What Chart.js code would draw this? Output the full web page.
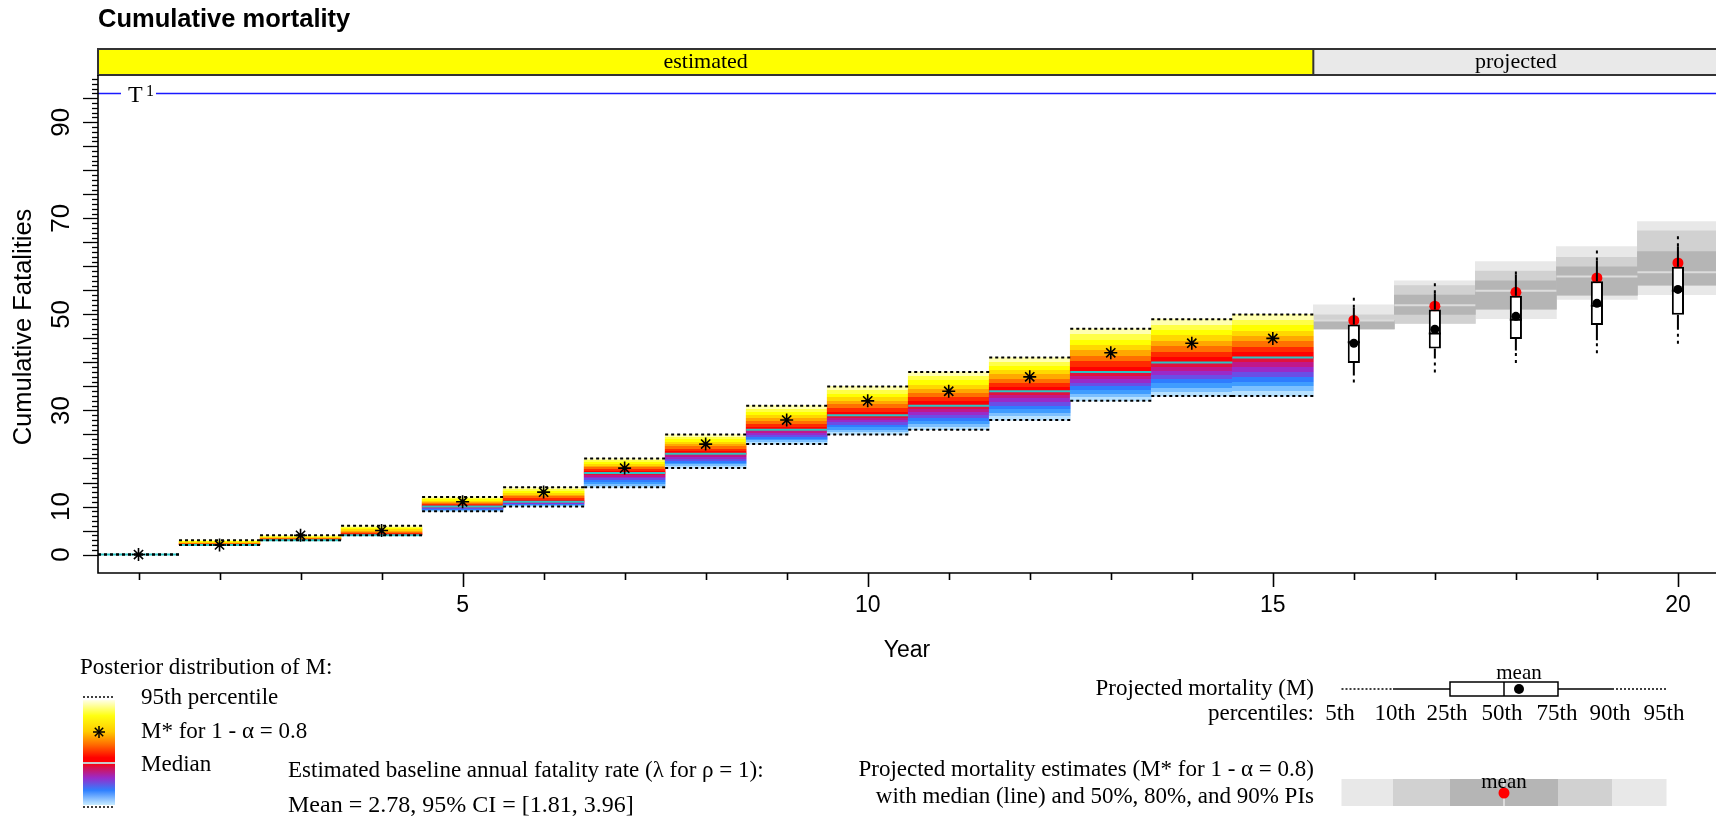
<!DOCTYPE html>
<html>
<head>
<meta charset="utf-8">
<script src="https://cdn.jsdelivr.net/npm/chart.js@4.4.1/dist/chart.umd.min.js"></script>
<style>
  html, body { margin: 0; padding: 0; background: #fff; overflow: hidden; }
  #wrap { width: 1716px; height: 817px; }
</style>
</head>
<body>
<div id="wrap"><canvas id="chart" width="1716" height="817"></canvas></div>
<script>
// Estimated years: posterior distribution of cumulative M
const estYears  = [1, 2, 3, 4, 5, 6, 7, 8, 9, 10, 11, 12, 13, 14, 15];
const estP95    = [0, 3, 4, 6, 12, 14, 20, 25, 31, 35, 38, 41, 47, 49, 50];
const estP5     = [0, 2, 3, 4, 9, 10, 14, 18, 23, 25, 26, 28, 32, 33, 33];
const estMedian = [0, 2, 3, 4, 10, 11, 17, 21, 26, 29, 31, 34, 38, 40, 41];
const estMstar  = [0, 2, 4, 5, 11, 13, 18, 23, 28, 32, 34, 37, 42, 44, 45];

// Projected years: box plot of M
const projYears = [16, 17, 18, 19, 20];
const projP5    = [35.8, 37.9, 39.9, 41.9, 43.9];
const projP10   = [37.6, 40.8, 42.5, 44.6, 47.4];
const projP25   = [39.9, 42.9, 44.9, 47.8, 49.9];
const projP50   = [44.2, 46.0, 48.9, 51.8, 54.9];
const projMean  = [44.0, 46.9, 49.6, 52.3, 55.2];
const projP75   = [47.9, 51.0, 53.9, 56.9, 59.9];
const projP90   = [51.4, 54.4, 58.3, 61.2, 64.2];
const projP95   = [54.2, 57.0, 59.7, 64.0, 66.9];

// Projected M* estimates: median, mean and prediction intervals
const mstarLo90 = [47, 48.1, 49.1, 53.1, 54.1];
const mstarLo80 = [47, 48.1, 51.1, 54, 56.1];
const mstarLo50 = [47, 50, 51.1, 54, 56.1];
const mstarMed  = [48.75, 51.9, 54.9, 57.9, 58.8];
const mstarHi50 = [48.75, 54, 57, 59.9, 63.1];
const mstarHi80 = [49.9, 56, 59, 61.9, 67.4];
const mstarHi90 = [52, 57, 61, 64.1, 69.3];
const mstarMean = [48.75, 51.7, 54.6, 57.6, 60.7];

const threshold = 96;
const xTickLabels = [5, 10, 15, 20];
const yTickLabels = [0, 10, 30, 50, 70, 90];
const phaseSplit = 15.5;
const pctLabels = ['5th', '10th', '25th', '50th', '75th', '90th', '95th'];

// colours of the posterior bands, from the median outwards
const aboveColors = ['#ff0000', '#ff2a00', '#ff7000', '#ffa800', '#ffd800', '#ffff00', '#ffff48', '#ffffb0'];
const belowColors = ['#e0123e', '#c0188a', '#9a2ac8', '#6a4ee6', '#2f7cff', '#3f9cff', '#7cc0ff', '#b8e2ff'];

const SANS = 'Liberation Sans';
const SERIF = 'Liberation Serif';

// helpers building the library's data objects from the arrays
const floatBars = (xs, lo, hi) => xs.map((x, i) => ({ x: x, y: [lo[i], hi[i]] }));
const hSeg = (xs, ys, half) => xs.flatMap((x, i) => [{ x: x - half, y: ys[i] }, { x: x + half, y: ys[i] }, { x: x + half, y: null }]);
const vSeg = (xs, a, b) => xs.flatMap((x, i) => [{ x: x, y: a[i] }, { x: x, y: b[i] }, { x: x, y: null }]);
const pts = (xs, ys) => xs.map((x, i) => ({ x: x, y: ys[i] }));

function bandGradient(ctx) {
    const chart = ctx.chart;
    if (!chart.chartArea || ctx.type !== 'data') return 'rgba(0,0,0,0)';
    const i = ctx.dataIndex;
    const ys = chart.scales.y;
    const top = ys.getPixelForValue(estP95[i]);
    const bot = ys.getPixelForValue(estP5[i]);
    const med = ys.getPixelForValue(estMedian[i]);
    if (bot - top < 1) return 'rgba(0,0,0,0)';
    const g = chart.ctx.createLinearGradient(0, top, 0, bot);
    const f = (med - top) / (bot - top);
    const n = aboveColors.length;
    for (let k = 0; k < n; k++) {
        const c = aboveColors[n - 1 - k];
        g.addColorStop(f * k / n, c);
        g.addColorStop(f * (k + 1) / n, c);
    }
    for (let k = 0; k < n; k++) {
        const c = belowColors[k];
        g.addColorStop(f + (1 - f) * k / n, c);
        g.addColorStop(Math.min(1, f + (1 - f) * (k + 1) / n), c);
    }
    return g;
}

const lineBase = { type: 'line', pointRadius: 0, fill: false, tension: 0, spanGaps: false };
const barBase = { type: 'bar', grouped: false, barPercentage: 1, categoryPercentage: 1, borderWidth: 0 };

const datasets = [
    // gray prediction intervals for projected M*
    { ...barBase, label: '90% PI', data: floatBars(projYears, mstarLo90, mstarHi90), backgroundColor: '#e8e8e8', order: 100 },
    { ...barBase, label: '80% PI', data: floatBars(projYears, mstarLo80, mstarHi80), backgroundColor: '#d1d1d1', order: 99 },
    { ...barBase, label: '50% PI', data: floatBars(projYears, mstarLo50, mstarHi50), backgroundColor: '#b5b5b5', order: 98 },
    { ...lineBase, label: 'M* median', data: hSeg(projYears, mstarMed, 0.5), borderColor: '#dcdcdc', borderWidth: 2, order: 97 },
    // posterior bands for estimated years
    { ...barBase, label: 'posterior', data: floatBars(estYears, estP5, estP95), backgroundColor: bandGradient, order: 96 },
    { ...lineBase, label: 'median', data: hSeg(estYears, estMedian, 0.5), borderColor: '#2ec4c4', borderWidth: 2, order: 95 },
    { ...lineBase, label: '95th', data: hSeg(estYears, estP95, 0.5), borderColor: '#000', borderWidth: 2, borderDash: [3, 3], order: 94 },
    { ...lineBase, label: '5th', data: hSeg(estYears, estP5, 0.5), borderColor: '#000', borderWidth: 2, borderDash: [3, 3], order: 94 },
    { ...lineBase, label: 'T1', data: [{ x: 0.5, y: threshold }, { x: 20.47, y: threshold }], borderColor: '#1a1aff', borderWidth: 1.5, order: 93 },
    // projected box plots
    { type: 'scatter', label: 'M* mean', data: pts(projYears, mstarMean), pointRadius: 5.5, pointBackgroundColor: '#ff0000', pointBorderColor: '#ff0000', pointBorderWidth: 0, order: 92 },
    { ...lineBase, label: 'upper dotted', data: vSeg(projYears, projP90, projP95), borderColor: '#000', borderWidth: 2, borderDash: [3, 4], order: 91 },
    { ...lineBase, label: 'lower dotted', data: vSeg(projYears, projP5, projP10), borderColor: '#000', borderWidth: 2, borderDash: [3, 4], order: 91 },
    { ...lineBase, label: 'upper whisker', data: vSeg(projYears, projP75, projP90), borderColor: '#000', borderWidth: 2, order: 91 },
    { ...lineBase, label: 'lower whisker', data: vSeg(projYears, projP10, projP25), borderColor: '#000', borderWidth: 2, order: 91 },
    { ...barBase, label: 'IQR', data: floatBars(projYears, projP25, projP75), backgroundColor: '#fff', borderColor: '#000', borderWidth: 2, borderSkipped: false, barPercentage: 0.15, order: 90 },
    { ...lineBase, label: 'box median', data: hSeg(projYears, projP50, 0.075), borderColor: '#000', borderWidth: 2, order: 89 },
    { type: 'scatter', label: 'mean', data: pts(projYears, projMean), pointRadius: 4.5, pointBackgroundColor: '#000', pointBorderColor: '#000', pointBorderWidth: 0, order: 88 },
    // M* for estimated years
    { type: 'scatter', label: 'M*', data: pts(estYears, estMstar), pointStyle: 'star', pointRadius: 6.5, pointBorderColor: '#000', pointBorderWidth: 1.6, order: 87 }
];

function txt(ctx, s, x, y, size, family, align, weight) {
    ctx.font = (weight ? weight + ' ' : '') + size + 'px "' + family + '"';
    ctx.textAlign = align || 'left';
    ctx.textBaseline = 'middle';
    ctx.fillStyle = '#000';
    ctx.fillText(s, x, y);
}
function seg(ctx, x1, y1, x2, y2, w, dash, color) {
    ctx.save();
    ctx.strokeStyle = color || '#000';
    ctx.lineWidth = w;
    ctx.setLineDash(dash || []);
    ctx.beginPath();
    ctx.moveTo(x1, y1);
    ctx.lineTo(x2, y2);
    ctx.stroke();
    ctx.restore();
}

const decor = {
    id: 'decor',
    afterDatasetsDraw(chart) {
        const ctx = chart.ctx;
        const xs = chart.scales.x, ys = chart.scales.y;
        // T1 label on the threshold line
        const yT = ys.getPixelForValue(threshold);
        const x0 = xs.getPixelForValue(0.5);
        ctx.fillStyle = '#fff';
        ctx.fillRect(x0 + 23, yT - 3, 35, 6);
        txt(ctx, 'T', x0 + 30, yT + 2, 24, SERIF);
        txt(ctx, '1', x0 + 48, yT - 2, 16, SERIF);
    },
    afterDraw(chart) {
        const ctx = chart.ctx;
        const xs = chart.scales.x, ys = chart.scales.y;
        const { left, right, top, bottom } = chart.chartArea;

        // phase strip above the plot
        const sTop = top - 26;
        const xSplit = xs.getPixelForValue(phaseSplit);
        const xEnd = xs.getPixelForValue(20.5);
        ctx.fillStyle = '#ffff00';
        ctx.fillRect(left, sTop, xSplit - left, top - sTop);
        ctx.fillStyle = '#e9e9e9';
        ctx.fillRect(xSplit, sTop, xEnd - xSplit, top - sTop);
        ctx.save();
        ctx.strokeStyle = '#333';
        ctx.lineWidth = 2;
        ctx.strokeRect(left, sTop, xEnd - left, top - sTop);
        seg(ctx, xSplit, sTop, xSplit, top, 2, null, '#333');
        ctx.restore();
        txt(ctx, 'estimated', (left + xSplit) / 2, (sTop + top) / 2, 22, SERIF, 'center');
        txt(ctx, 'projected', (xSplit + xEnd) / 2, (sTop + top) / 2, 22, SERIF, 'center');

        // axes (L-shaped box)
        ctx.save();
        ctx.strokeStyle = '#000';
        ctx.lineWidth = 1.6;
        ctx.beginPath();
        ctx.moveTo(left, top);
        ctx.lineTo(left, bottom);
        ctx.lineTo(right, bottom);
        ctx.stroke();
        ctx.restore();

        for (let v = 0; v <= 99; v++) {
            const y = Math.round(ys.getPixelForValue(v)) + 0.5;
            const len = v % 5 === 0 ? 15 : 6;
            seg(ctx, left - len, y, left, y, 1.3);
        }
        yTickLabels.forEach(v => {
            const y = ys.getPixelForValue(v);
            ctx.save();
            ctx.translate(62, y);
            ctx.rotate(-Math.PI / 2);
            txt(ctx, String(v), 0, 0, 26, SANS, 'center');
            ctx.restore();
        });
        ctx.save();
        ctx.translate(24, (top + bottom) / 2 + 3);
        ctx.rotate(-Math.PI / 2);
        txt(ctx, 'Cumulative Fatalities', 0, 0, 25.5, SANS, 'center');
        ctx.restore();

        for (let yr = 1; yr <= 20; yr++) {
            const x = Math.round(xs.getPixelForValue(yr)) + 0.5;
            seg(ctx, x, bottom, x, bottom + (yr % 5 === 0 ? 14 : 7), 1.6);
        }
        xTickLabels.forEach(v => txt(ctx, String(v), xs.getPixelForValue(v), 606, 23, SANS, 'center'));
        txt(ctx, 'Year', (left + right) / 2, 651, 23, SANS, 'center');

        // legend: posterior distribution colour bar
        txt(ctx, 'Posterior distribution of M:', 80, 668, 23, SERIF);
        const cb = { x: 83, w: 32, top: 700, bot: 805, med: 763 };
        const g = ctx.createLinearGradient(0, cb.top, 0, cb.bot);
        g.addColorStop(0, '#ffffe8');
        g.addColorStop(0.15, '#ffff10');
        g.addColorStop(0.3, '#ffcc00');
        g.addColorStop(0.42, '#ff7000');
        g.addColorStop(0.55, '#ff0000');
        g.addColorStop(0.6, '#ff0000');
        g.addColorStop(0.64, '#d8104c');
        g.addColorStop(0.74, '#9a2ac8');
        g.addColorStop(0.86, '#2f80ff');
        g.addColorStop(1, '#c8ecff');
        ctx.fillStyle = g;
        ctx.fillRect(cb.x, cb.top, cb.w, cb.bot - cb.top);
        seg(ctx, cb.x, cb.med, cb.x + cb.w, cb.med, 2, null, '#c8c8c8');
        seg(ctx, cb.x, cb.top - 3, cb.x + cb.w, cb.top - 3, 1.5, [2, 2]);
        seg(ctx, cb.x, cb.bot + 2, cb.x + cb.w, cb.bot + 2, 1.5, [2, 2]);
        const ax = cb.x + cb.w / 2, ay = 732, r = 6;
        seg(ctx, ax, ay - r, ax, ay + r, 1.5);
        seg(ctx, ax - r, ay, ax + r, ay, 1.5);
        seg(ctx, ax - r * 0.7, ay - r * 0.7, ax + r * 0.7, ay + r * 0.7, 1.5);
        seg(ctx, ax - r * 0.7, ay + r * 0.7, ax + r * 0.7, ay - r * 0.7, 1.5);
        txt(ctx, '95th percentile', 141, 698, 23, SERIF);
        txt(ctx, 'M* for 1 - \u03b1 = 0.8', 141, 732, 23, SERIF);
        txt(ctx, 'Median', 141, 765, 23, SERIF);
        txt(ctx, 'Estimated baseline annual fatality rate (\u03bb for \u03c1 = 1):', 288, 771, 23, SERIF);
        txt(ctx, 'Mean = 2.78, 95% CI = [1.81, 3.96]', 288, 806, 24, SERIF);

        // legend: projected box plot
        const px = [1341.5, 1393, 1450, 1504, 1558, 1612, 1666];
        const by = 689;
        txt(ctx, 'Projected mortality (M)', 1314, by, 23, SERIF, 'right');
        txt(ctx, 'percentiles:', 1314, 714, 23, SERIF, 'right');
        const pc = [1340, 1395, 1447, 1502, 1557, 1610, 1664];
        pctLabels.forEach((s, i) => txt(ctx, s, pc[i], 714, 23, SERIF, 'center'));
        seg(ctx, px[0], by, px[1], by, 1.5, [2, 2]);
        seg(ctx, px[1], by, px[2], by, 1.5);
        seg(ctx, px[4], by, px[5], by, 1.5);
        seg(ctx, px[5], by, px[6], by, 1.5, [2, 2]);
        ctx.save();
        ctx.strokeStyle = '#000';
        ctx.lineWidth = 1.5;
        ctx.fillStyle = '#fff';
        ctx.fillRect(px[2], by - 7, px[4] - px[2], 14);
        ctx.strokeRect(px[2], by - 7, px[4] - px[2], 14);
        ctx.restore();
        seg(ctx, px[3], by - 7, px[3], by + 7, 1.5);
        ctx.fillStyle = '#000';
        ctx.beginPath();
        ctx.arc(1519, by, 5, 0, Math.PI * 2);
        ctx.fill();
        txt(ctx, 'mean', 1519, 673, 21, SERIF, 'center');

        // legend: projected M* estimates
        txt(ctx, 'Projected mortality estimates (M* for 1 - \u03b1 = 0.8)', 1314, 770, 23, SERIF, 'right');
        txt(ctx, 'with median (line) and 50%, 80%, and 90% PIs', 1314, 797, 23, SERIF, 'right');
        const gy = 779, gh = 27;
        const shades = ['#e8e8e8', '#d1d1d1', '#b5b5b5', '#b5b5b5', '#d1d1d1', '#e8e8e8'];
        shades.forEach((c, i) => { ctx.fillStyle = c; ctx.fillRect(px[i], gy, px[i + 1] - px[i] + 0.5, gh); });
        seg(ctx, px[3], gy, px[3], gy + gh, 2, null, '#dcdcdc');
        ctx.fillStyle = '#ff0000';
        ctx.beginPath();
        ctx.arc(px[3], 793, 5.5, 0, Math.PI * 2);
        ctx.fill();
        txt(ctx, 'mean', px[3], 782, 21, SERIF, 'center');
    }
};

new Chart(document.getElementById('chart'), {
    type: 'bar',
    data: { datasets: datasets },
    options: {
        responsive: false,
        animation: false,
        devicePixelRatio: 1,
        layout: { autoPadding: false, padding: { left: 98, right: 0, top: 0, bottom: 244 } },
        scales: {
            x: { type: 'linear', offset: false, min: 0.5, max: 20.47, display: false, grid: { offset: false }, ticks: { stepSize: 1, includeBounds: false } },
            y: { type: 'linear', min: -3.84, max: 99.84, display: false }
        },
        plugins: {
            legend: { display: false },
            tooltip: { enabled: false },
            title: {
                display: true,
                text: 'Cumulative mortality',
                align: 'start',
                color: '#000',
                font: { family: SANS, size: 25.5, weight: 'bold' },
                padding: { top: 5, bottom: 39.4 }
            }
        }
    },
    plugins: [decor]
});
</script>
</body>
</html>
